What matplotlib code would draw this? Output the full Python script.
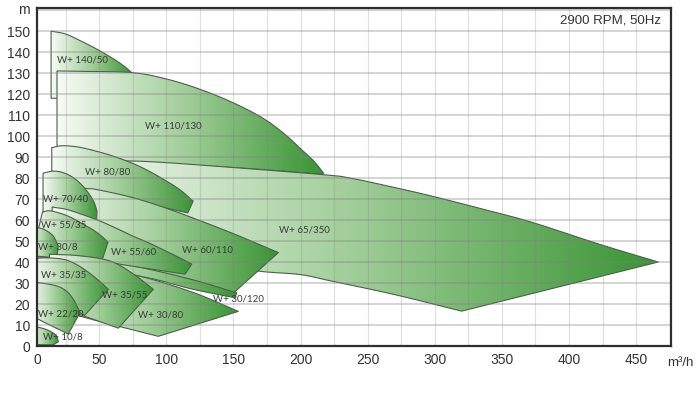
import numpy as np
import matplotlib
matplotlib.use('Agg')
import matplotlib.pyplot as plt
from matplotlib.patches import Polygon
from matplotlib.colors import LinearSegmentedColormap

# ---------------- data (flow m3/h, head m) ----------------
# each pump field: top curve (left->right) and bottom curve (right->left)
w140_50_top = [(14.2, 150), (25, 148.6), (36, 145.4), (48, 141.5), (58, 137.8), (66, 134.5), (72, 131.5), (76, 129)]
w140_50_bot = [(76, 118), (14.2, 118)]

w110_130_top = [(18.6, 131), (40, 130.8), (75, 130.2), (100, 127.2), (125, 122.3), (150, 115.8),
                (172, 108.5), (188, 101), (200, 94), (210, 88), (217, 82.5)]
w110_130_bot = [(217, 81.8), (150, 85), (79, 87.3), (18.6, 89)]

w65_350_top = [(20, 89), (50, 88.3), (88, 87.8), (150, 85), (217, 81.6), (237, 80), (270, 75.5),
               (299, 71.2), (340, 64.5), (373, 58.8), (423, 48.4), (466.5, 40)]
w65_350_bot = [(320, 16.6), (270, 24.5), (224, 30.8), (200, 34), (170, 35.6), (140, 39), (100, 44), (20, 52)]

w80_80_top = [(14.7, 94.5), (23, 95.4), (35, 94.7), (48.4, 92.7), (60, 90.5), (73, 87.5), (85, 84),
              (97.6, 79.5), (110, 74.5), (120, 69)]
w80_80_bot = [(116, 63.4), (80, 68.5), (41, 74), (14.7, 77)]

w60_110_top = [(15, 76), (41, 75), (48.4, 74.5), (70, 71.5), (87.6, 68.3), (105, 64.5), (123, 60.2),
               (150, 53.5), (183.5, 44.5)]
w60_110_bot = [(150, 25.2), (100, 32), (50, 38), (15, 42)]

w70_40_top = [(8.2, 82.3), (15.6, 83.3), (23, 82.6), (30, 80.5), (35.8, 77.5), (40, 74.5), (43.5, 71.5),
              (46.5, 68), (48.4, 64.2)]
w70_40_bot = [(48, 58), (8.2, 64)]

w30_120_top = [(18, 43), (50, 41), (80.5, 37.5), (120, 31.5), (152.5, 25.3)]
w30_120_bot = [(151, 23), (120, 27), (80.5, 33.2), (20, 38)]

w55_60_top = [(15, 66.2), (26, 65), (38, 62.5), (50.7, 59.5), (63, 56), (75.3, 52.3), (88, 48.8),
              (100.4, 45), (110, 42), (119, 39)]
w55_60_bot = [(114, 34.2), (80, 37.5), (50, 40.5), (20, 43), (15, 43.3)]

w30_80_top = [(20, 38), (50, 36), (80.5, 33.2), (120, 25.5), (153.7, 16.5)]
w30_80_bot = [(94, 4.6), (37, 14), (20, 18)]

w55_35_top = [(7.7, 63.8), (13.4, 64.4), (23, 62.8), (31, 60.6), (38, 58), (45, 55.5), (51, 52.7), (56.6, 49.5)]
w55_35_bot = [(52, 40.5), (20, 42), (0, 42.5)]

w30_8_top = [(0, 56.5), (4.7, 56.3), (10, 55.2), (15.9, 52.3), (19.6, 47.6)]
w30_8_bot = [(18.4, 42), (0, 43)]

w35_55_top = [(13, 43.7), (35, 43), (58, 40.5), (75, 34.5), (90.4, 27)]
w35_55_bot = [(64.3, 8.5), (40, 14), (13, 20)]

w35_35_top = [(0, 41.5), (10, 42), (23.3, 41.3), (32, 39.2), (40.7, 35.7), (50, 31), (56.9, 27)]
w35_35_bot = [(39, 14.5), (30, 18), (15, 22), (0, 25)]

w22_20_top = [(0, 30.2), (4.7, 30.2), (18.4, 28.6), (25.8, 26), (31, 22), (35.8, 16)]
w22_20_bot = [(27, 5.7), (10, 11), (0, 14.4)]

w10_8_top = [(0, 9.5), (4.7, 8.9), (10, 8), (15, 6.5), (18.4, 4.6), (19.6, 2)]
w10_8_bot = [(15.9, 0.6), (0, 0.6)]

# labels: name, label position (flow, head)
label_names = ["W+ 140/50", "W+ 110/130", "W+ 65/350", "W+ 80/80", "W+ 60/110", "W+ 70/40",
               "W+ 30/120", "W+ 55/60", "W+ 30/80", "W+ 55/35", "W+ 30/8", "W+ 35/55",
               "W+ 35/35", "W+ 22/20", "W+ 10/8"]
label_q = [37.3, 105, 202.7, 56.6, 130.4, 25.3, 153.5, 75.6, 95.4, 23.5, 19, 69, 23.5, 21.2, 22.7]
label_h = [136.2, 104.9, 55.2, 83, 45.7, 69.8, 22.3, 44.9, 14.9, 57.4, 47.1, 24.3, 33.7, 15.2, 4.4]

x_ticks = [50, 100, 150, 200, 250, 300, 350, 400, 450]
y_ticks = [0, 10, 20, 30, 40, 50, 60, 70, 80, 90, 100, 110, 120, 130, 140, 150]

# drawing order (bottom -> top)
fields = [
    (w140_50_top, w140_50_bot), (w110_130_top, w110_130_bot), (w65_350_top, w65_350_bot),
    (w80_80_top, w80_80_bot), (w60_110_top, w60_110_bot), (w70_40_top, w70_40_bot),
    (w30_120_top, w30_120_bot), (w55_60_top, w55_60_bot), (w30_80_top, w30_80_bot),
    (w55_35_top, w55_35_bot), (w30_8_top, w30_8_bot), (w35_55_top, w35_55_bot),
    (w35_35_top, w35_35_bot), (w22_20_top, w22_20_bot), (w10_8_top, w10_8_bot),
]


def smooth(points, n=16):
    """Catmull-Rom rendering through the given points (drawing only)."""
    p = np.array(points, dtype=float)
    if len(p) < 3:
        return p
    ext = np.vstack([2 * p[0] - p[1], p, 2 * p[-1] - p[-2]])
    out = []
    for i in range(1, len(ext) - 2):
        p0, p1, p2, p3 = ext[i - 1], ext[i], ext[i + 1], ext[i + 2]
        t = np.linspace(0, 1, n, endpoint=False)[:, None]
        seg = 0.5 * ((2 * p1) + (-p0 + p2) * t + (2 * p0 - 5 * p1 + 4 * p2 - p3) * t ** 2
                     + (-p0 + 3 * p1 - 3 * p2 + p3) * t ** 3)
        out.append(seg)
    out.append(p[-1:])
    return np.vstack(out)


# ---------------- figure ----------------
X0, X1 = 3.7, 476
Y0, Y1 = 0, 161

fig = plt.figure(figsize=(7.0, 4.08), dpi=100)
ax = fig.add_axes([37 / 700, 62 / 408, 634 / 700, 338 / 408])
ax.set_xlim(X0, X1)
ax.set_ylim(Y0, Y1)

cmap = LinearSegmentedColormap.from_list(
    "pumpgreen", [(0.0, (0.97, 0.985, 0.965)), (0.5, (0.62, 0.80, 0.59)), (1.0, (0.22, 0.58, 0.20))])
grad = np.linspace(0, 1, 256).reshape(1, -1)

for i, (top, bot) in enumerate(fields):
    pts = np.vstack([smooth(top), smooth(bot)])
    z = 2 + i
    outline = Polygon(pts, closed=True, facecolor='none', edgecolor='#4d5f4a', lw=0.8, zorder=z + 0.5,
                      joinstyle='round')
    ax.add_patch(outline)
    xmin, xmax = pts[:, 0].min(), pts[:, 0].max()
    ymin, ymax = pts[:, 1].min(), pts[:, 1].max()
    im = ax.imshow(grad, extent=(xmin, xmax, ymin, ymax), aspect='auto', cmap=cmap,
                   interpolation='bilinear', origin='lower', zorder=z)
    im.set_clip_path(outline)

ax.set_xlim(X0, X1)
ax.set_ylim(Y0, Y1)

# grid (drawn over the fields, translucent like the original)
for xv in np.arange(25, 476, 25):
    ax.axvline(xv, color=(0.5, 0.5, 0.5, 0.24), lw=0.9, zorder=40)
for yv in np.arange(10, 161, 10):
    ax.axhline(yv, color=(0.5, 0.5, 0.5, 0.36), lw=1.3, zorder=40)

for name, q, h in zip(label_names, label_q, label_h):
    ax.text(q, h, name, fontsize=7, family='Lato', color='#3a3a3a', ha='center', va='center', zorder=60)

ax.set_xticks([X0] + x_ticks)
ax.set_xticklabels(['0'] + [str(v) for v in x_ticks])
ax.set_yticks(y_ticks)
ax.set_yticklabels([str(v) for v in y_ticks])
ax.tick_params(length=0, labelsize=10, colors='#333333', pad=5)
for lab in ax.get_xticklabels() + ax.get_yticklabels():
    lab.set_family('Liberation Sans')

for s in ax.spines.values():
    s.set_color('#2e2e2e')
    s.set_linewidth(1.6)
    s.set_zorder(70)

ax.text(-0.012, 160, 'm', transform=ax.get_yaxis_transform(), ha='right', va='center',
        fontsize=10, family='Liberation Sans', color='#333333')
fig.text(680 / 700, 1 - 363 / 408, 'm³/h', ha='center', va='center', fontsize=9.5,
         family='Liberation Sans', color='#333333')
ax.text(0.985, 155, '2900 RPM, 50Hz', transform=ax.get_yaxis_transform(), ha='right', va='center',
        fontsize=9.5, family='Liberation Sans', color='#333333', zorder=60)

fig.savefig('out.png', dpi=100)
